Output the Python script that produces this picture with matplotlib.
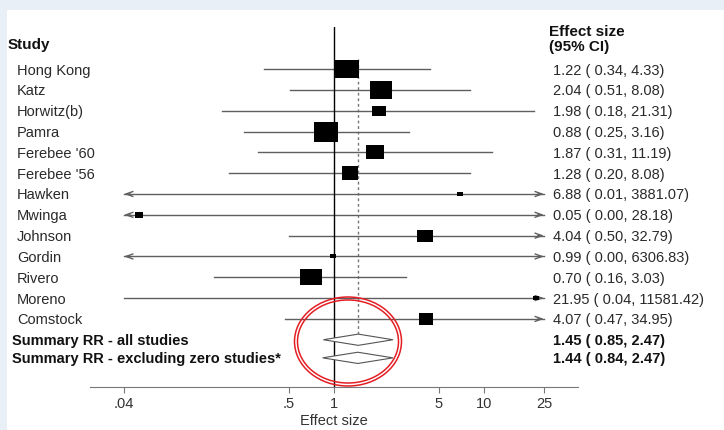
import numpy as np
import matplotlib.pyplot as plt
import matplotlib.transforms as mtransforms
from matplotlib.patches import Ellipse, Polygon, Rectangle
from matplotlib.ticker import NullLocator

plt.rcParams['font.family'] = ['Liberation Sans', 'DejaVu Sans']

# data
studies = ['Hong Kong', 'Katz', 'Horwitz(b)', 'Pamra', "Ferebee '60", "Ferebee '56",
           'Hawken', 'Mwinga', 'Johnson', 'Gordin', 'Rivero', 'Moreno', 'Comstock']
effect = [1.22, 2.04, 1.98, 0.88, 1.87, 1.28, 6.88, 0.05, 4.04, 0.99, 0.70, 21.95, 4.07]
ci_low = [0.34, 0.51, 0.18, 0.25, 0.31, 0.20, 0.01, 0.00, 0.50, 0.00, 0.16, 0.04, 0.47]
ci_high = [4.33, 8.08, 21.31, 3.16, 11.19, 8.08, 3881.07, 28.18, 32.79, 6306.83, 3.03,
           11581.42, 34.95]

summary_labels = ['Summary RR - all studies', 'Summary RR - excluding zero studies*']
summary_effect = [1.45, 1.44]
summary_low = [0.85, 0.84]
summary_high = [2.47, 2.47]

tick_values = [0.04, 0.5, 1, 5, 10, 25]
tick_labels = ['.04', '.5', '1', '5', '10', '25']

W, H = 724, 430
fig = plt.figure(figsize=(W / 100, H / 100), dpi=100, facecolor='#e9eff6')
fig.add_artist(Rectangle((7 / W, 0), 1, 1 - 10 / H, transform=fig.transFigure,
                         facecolor='white', edgecolor='none', zorder=0))

ax = fig.add_axes([90 / W, 1 - 387 / H, (578 - 90) / W, (387 - 27) / H])
ax.patch.set_alpha(0)
ax.set_xscale('log')
lim = np.exp(3.74)
ax.set_xlim(1 / lim, lim)
ax.set_ylim(15.27, -2.02)

line_col = '#5f5f5f'
rows = np.arange(len(studies))
summary_rows = [13.0, 13.87]
xmin, xmax = tick_values[0], tick_values[-1]

# null line and overall effect line
ax.axvline(1, color='black', lw=1, zorder=2)
ax.plot([summary_effect[0]] * 2, [-0.5, summary_rows[0] - 0.27], ls=(0, (2, 2)),
        color='#777777', lw=1, zorder=1)

arrow = dict(arrowstyle='->,head_length=0.5,head_width=0.18', color=line_col, lw=1,
             shrinkA=0, shrinkB=0)
for y, e, lo, hi in zip(rows, effect, ci_low, ci_high):
    lo_p = max(lo, xmin) if lo < xmin else lo
    hi_p = min(hi, xmax) if hi > xmax else hi
    ax.plot([lo_p, hi_p], [y, y], color=line_col, lw=1, zorder=1)
    if lo < xmin:
        ax.annotate('', xy=(lo_p, y), xytext=(lo_p * 1.1, y), arrowprops=arrow)
    if hi > xmax:
        ax.annotate('', xy=(hi_p, y), xytext=(hi_p / 1.1, y), arrowprops=arrow)
    # box size from inverse-variance weight
    h = max(48.3 / np.log(hi / max(lo, 0.005)), 4)
    box = [(-1.3, -1), (1.3, -1), (1.3, 1), (-1.3, 1), (-1.3, -1)]
    ax.plot(e, y, marker=box, ms=1.3 * h * 0.72, color='black', mew=0, zorder=3)

for y, e, lo, hi in zip(summary_rows, summary_effect, summary_low, summary_high):
    ax.add_patch(Polygon([(lo, y), (e, y - 0.27), (hi, y), (e, y + 0.27)], closed=True,
                         facecolor='white', edgecolor='#555555', lw=0.8, zorder=3))

for s in ['top', 'left', 'right']:
    ax.spines[s].set_visible(False)
ax.spines['bottom'].set_color('#777777')
ax.set_xticks(tick_values, tick_labels)
ax.xaxis.set_minor_locator(NullLocator())
ax.set_yticks([])
ax.tick_params(axis='x', length=4, color='#777777', pad=3, labelsize=10.5,
               labelcolor='#333333')

trans = mtransforms.blended_transform_factory(fig.transFigure, ax.transData)
ax.text(8 / W, -1.25, 'Study', transform=trans, va='center_baseline', fontsize=11,
        fontweight='bold', color='#111111')
ax.text(549 / W, -1.87, 'Effect size', transform=trans, va='center_baseline', fontsize=11,
        fontweight='bold', color='#111111')
ax.text(549 / W, -1.15, '(95% CI)', transform=trans, va='center_baseline', fontsize=11,
        fontweight='bold', color='#111111')

for y, name, e, lo, hi in zip(rows, studies, effect, ci_low, ci_high):
    ax.text(17 / W, y, name, transform=trans, va='center_baseline', fontsize=10.5,
            color='#2a2a2a')
    ax.text(553 / W, y, f'{e:.2f} ( {lo:.2f}, {hi:.2f})', transform=trans,
            va='center_baseline', fontsize=10.5, color='#2a2a2a')

for y, name, e, lo, hi in zip(summary_rows, summary_labels, summary_effect, summary_low,
                              summary_high):
    ax.text(12 / W, y, name, transform=trans, va='center_baseline', fontsize=10.5,
            fontweight='bold', color='#111111')
    ax.text(553 / W, y, f'{e:.2f} ( {lo:.2f}, {hi:.2f})', transform=trans,
            va='center_baseline', fontsize=10.5, fontweight='bold', color='#111111')

fig.text(334 / W, 1 - 421 / H, 'Effect size', ha='center', va='center', fontsize=10.5,
         color='#333333')

# red highlight around the summary diamonds
for w, h in [(107, 89), (101, 83)]:
    fig.add_artist(Ellipse((348 / W, 1 - 341.5 / H), w / W, h / H, transform=fig.transFigure,
                           fill=False, edgecolor='#e31e24', lw=1.1, zorder=5))

fig.savefig('out.png', dpi=100, facecolor=fig.get_facecolor())
